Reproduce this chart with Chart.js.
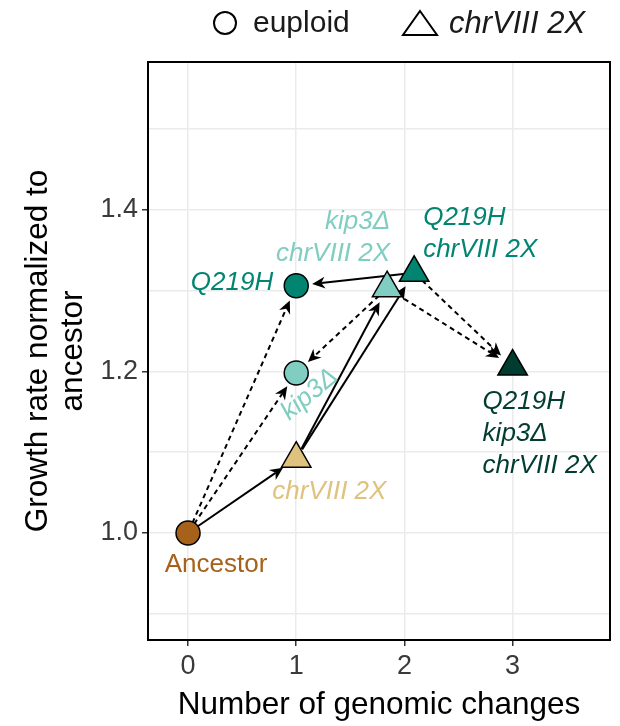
<!DOCTYPE html>
<html>
<head>
<meta charset="utf-8">
<script src="https://cdn.jsdelivr.net/npm/chart.js@4.4.0/dist/chart.umd.min.js"></script>
<style>
  html, body { margin: 0; padding: 0; background: #fff; }
  #wrap { width: 620px; height: 726px; }
</style>
</head>
<body>
<div id="wrap"><canvas id="chart" width="620" height="726"></canvas></div>
<script>
// Data
const genotypes = ['Ancestor', 'chrVIII 2X', 'kip3Δ', 'Q219H', 'kip3Δ\nchrVIII 2X', 'Q219H\nchrVIII 2X', 'Q219H\nkip3Δ\nchrVIII 2X'];
const genomicChanges = [0, 1, 1, 1, 1.84, 2.09, 3];
const growthRate = [1.000, 1.092, 1.198, 1.306, 1.303, 1.322, 1.206];
const karyotype = ['euploid', 'chrVIII 2X', 'euploid', 'euploid', 'chrVIII 2X', 'chrVIII 2X', 'chrVIII 2X'];

// arrows between genotypes (indices into genotypes)
const arrowFrom = [0, 1, 1, 5, 0, 0, 4, 5, 4];
const arrowTo = [1, 4, 5, 3, 3, 2, 2, 6, 6];
const arrowDashed = [false, false, false, false, true, true, true, true, true];

const xTicks = [0, 1, 2, 3];
const yTicks = [0.9, 1.0, 1.1, 1.2, 1.3, 1.4, 1.5];
const yLabelled = [1.0, 1.2, 1.4];

// Styles
const genotypeColors = ['#A6611A', '#DFC27D', '#80CDC1', '#018571', '#80CDC1', '#018571', '#003C30'];
const FONT = "'Liberation Sans', Arial, Helvetica, sans-serif";

// label placement relative to the point (pixels)
const labelPlace = [
    { dx: 28, dy: 39, align: 'center', italic: false },
    { dx: -24, dy: 40, align: 'left' },
    { dx: -7, dy: 48, align: 'left', rotate: -40 },
    { dx: -23, dy: 4, align: 'right' },
    { dx: 3, dy: -59, align: 'right' },
    { dx: 9, dy: -48, align: 'left' },
    { dx: -30, dy: 42, align: 'left' }
];

// Panel border
const borderPlugin = {
    id: 'panelBorder',
    beforeDatasetsDraw(chart) {
        const { ctx, chartArea: a } = chart;
        ctx.save();
        ctx.strokeStyle = '#000';
        ctx.lineWidth = 2;
        ctx.strokeRect(a.left, a.top, a.right - a.left, a.bottom - a.top);
        ctx.restore();
    }
};

// Arrows
const arrowPlugin = {
    id: 'arrows',
    beforeDatasetsDraw(chart) {
        const { ctx, scales: { x, y } } = chart;
        const startGap = 11, endGap = 16, headLen = 13, headHalf = 6;
        ctx.save();
        ctx.strokeStyle = '#000';
        ctx.fillStyle = '#000';
        ctx.lineWidth = 2;
        arrowFrom.forEach((from, i) => {
            const to = arrowTo[i];
            const x0 = x.getPixelForValue(genomicChanges[from]);
            const y0 = y.getPixelForValue(growthRate[from]);
            const x1 = x.getPixelForValue(genomicChanges[to]);
            const y1 = y.getPixelForValue(growthRate[to]);
            const ang = Math.atan2(y1 - y0, x1 - x0);
            const c = Math.cos(ang), s = Math.sin(ang);
            const sx = x0 + c * startGap, sy = y0 + s * startGap;
            const ex = x1 - c * endGap, ey = y1 - s * endGap;

            ctx.setLineDash(arrowDashed[i] ? [5, 4] : []);
            ctx.beginPath();
            ctx.moveTo(sx, sy);
            ctx.lineTo(ex - c * headLen * 0.7, ey - s * headLen * 0.7);
            ctx.stroke();
            ctx.setLineDash([]);

            // notched head
            const bx = ex - c * headLen, by = ey - s * headLen;
            const nx = ex - c * headLen * 0.7, ny = ey - s * headLen * 0.7;
            ctx.beginPath();
            ctx.moveTo(ex, ey);
            ctx.lineTo(bx - s * headHalf, by + c * headHalf);
            ctx.lineTo(nx, ny);
            ctx.lineTo(bx + s * headHalf, by - c * headHalf);
            ctx.closePath();
            ctx.fill();
        });
        ctx.restore();
    }
};

// Point labels
const labelPlugin = {
    id: 'pointLabels',
    afterDatasetsDraw(chart) {
        const { ctx, scales: { x, y } } = chart;
        ctx.save();
        genotypes.forEach((g, i) => {
            const p = labelPlace[i];
            const px = x.getPixelForValue(genomicChanges[i]) + p.dx;
            const py = y.getPixelForValue(growthRate[i]) + p.dy;
            ctx.fillStyle = genotypeColors[i];
            ctx.font = (p.italic === false ? '' : 'italic ') + '26px ' + FONT;
            ctx.textAlign = p.align;
            ctx.textBaseline = 'alphabetic';
            ctx.save();
            ctx.translate(px, py);
            if (p.rotate) ctx.rotate(p.rotate * Math.PI / 180);
            g.split('\n').forEach((line, k) => ctx.fillText(line, 0, k * 32));
            ctx.restore();
        });
        ctx.restore();
    }
};

// Legend at the top
const legendPlugin = {
    id: 'shapeLegend',
    afterDraw(chart) {
        const { ctx } = chart;
        ctx.save();
        ctx.strokeStyle = '#000';
        ctx.lineWidth = 2;
        ctx.beginPath();
        ctx.arc(225, 23, 11, 0, Math.PI * 2);
        ctx.stroke();
        ctx.beginPath();
        ctx.moveTo(420, 11);
        ctx.lineTo(437, 35);
        ctx.lineTo(403, 35);
        ctx.closePath();
        ctx.stroke();
        ctx.fillStyle = '#1a1a1a';
        ctx.textBaseline = 'middle';
        ctx.textAlign = 'left';
        ctx.font = '30px ' + FONT;
        ctx.fillText('euploid', 253, 24);
        ctx.font = 'italic 31px ' + FONT;
        ctx.fillText('chrVIII 2X', 449, 24);
        ctx.restore();
    }
};

const points = genomicChanges.map((v, i) => ({ x: v, y: growthRate[i] }));

new Chart(document.getElementById('chart'), {
    type: 'scatter',
    data: {
        datasets: [{
            data: points,
            pointStyle: karyotype.map(k => k === 'euploid' ? 'circle' : 'triangle'),
            pointRadius: karyotype.map(k => k === 'euploid' ? 12 : 17),
            pointBackgroundColor: genotypeColors,
            pointBorderColor: '#000',
            pointBorderWidth: 1.5,
            pointHoverRadius: karyotype.map(k => k === 'euploid' ? 12 : 17)
        }]
    },
    options: {
        responsive: false,
        animation: false,
        devicePixelRatio: 1,
        layout: { autoPadding: false, padding: { top: 62, right: 10, left: 0, bottom: 0 } },
        plugins: {
            legend: { display: false },
            tooltip: { enabled: false }
        },
        scales: {
            x: {
                type: 'linear',
                min: -0.37,
                max: 3.9,
                afterBuildTicks: scale => { scale.ticks = xTicks.map(v => ({ value: v })); },
                afterFit: scale => {
                    scale.height = 86;
                    scale.paddingLeft = 0;
                    scale.paddingRight = 0;
                },
                border: { display: false },
                grid: {
                    color: '#EBEBEB',
                    lineWidth: 1.5,
                    tickLength: 6,
                    tickColor: '#333',
                    tickWidth: 1.5
                },
                ticks: {
                    color: '#3a3a3a',
                    font: { family: FONT, size: 27 },
                    padding: 4,
                    callback: v => String(v)
                },
                title: {
                    display: true,
                    text: 'Number of genomic changes',
                    color: '#000',
                    font: { family: FONT, size: 31.5, lineHeight: 1.1 },
                    padding: { top: 0, bottom: 3 }
                }
            },
            y: {
                type: 'linear',
                min: 0.8675,
                max: 1.583,
                afterBuildTicks: scale => { scale.ticks = yTicks.map(v => ({ value: v })); },
                afterFit: scale => { scale.width = 148; },
                border: { display: false },
                grid: {
                    color: '#EBEBEB',
                    lineWidth: 1.5,
                    tickLength: 6,
                    tickColor: ctx => yLabelled.some(v => Math.abs(v - ctx.tick.value) < 1e-6) ? '#333' : 'rgba(0,0,0,0)',
                    tickWidth: 1.5
                },
                ticks: {
                    color: '#3a3a3a',
                    font: { family: FONT, size: 27 },
                    padding: 4,
                    callback: v => yLabelled.some(t => Math.abs(t - v) < 1e-6) ? v.toFixed(1) : ''
                },
                title: {
                    display: true,
                    text: ['Growth rate normalized to', 'ancestor'],
                    color: '#000',
                    font: { family: FONT, size: 31.5, lineHeight: 1.1 },
                    padding: { top: 21, bottom: 0 }
                }
            }
        }
    },
    plugins: [borderPlugin, arrowPlugin, labelPlugin, legendPlugin]
});
</script>
</body>
</html>
